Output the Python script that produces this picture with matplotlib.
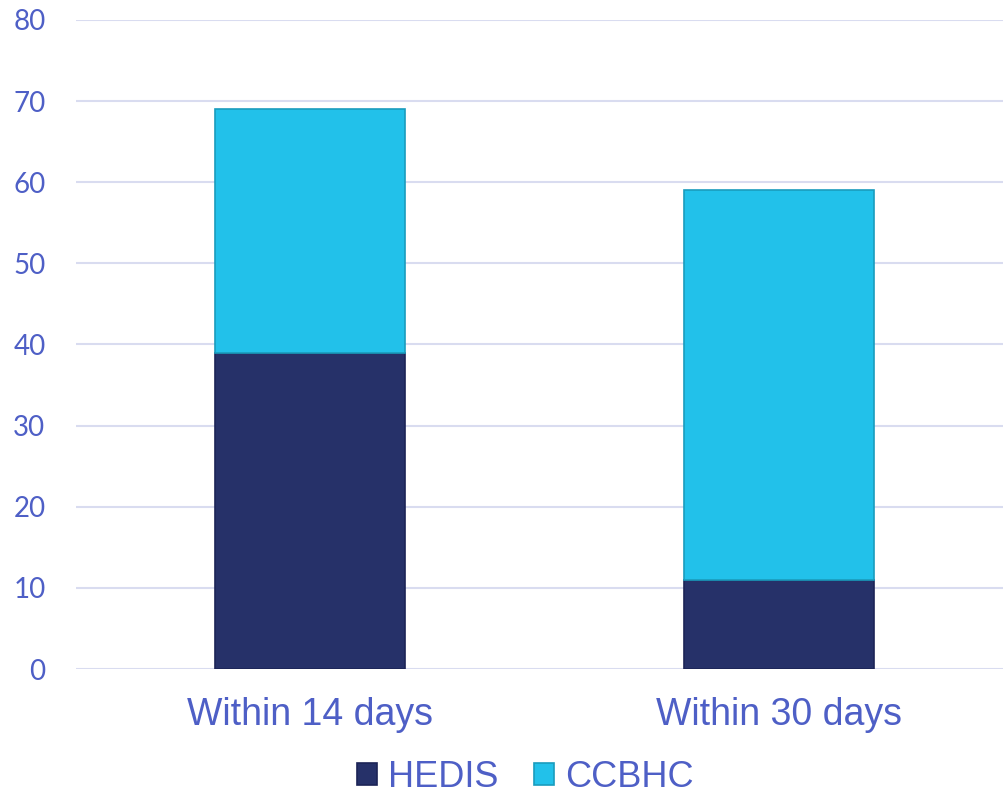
import matplotlib.pyplot as plt
import numpy as np

# Data
categories = ['Within 14 days', 'Within 30 days']
hedis = [39, 11]
ccbhc = [30, 48]
series_names = ['HEDIS', 'CCBHC']

TEXT = '#4E5FC6'
NAVY = '#263169'
CYAN = '#22C1EA'

fig = plt.figure(figsize=(10.04, 7.97), dpi=100)
ax = fig.add_axes([0.0757, 0.1606, 0.9243, 0.8144])

x = np.arange(len(categories))
w = 0.405
ax.bar(x, hedis, width=w, color=NAVY, edgecolor='#1c2456', linewidth=1.2,
       label=series_names[0], zorder=3)
ax.bar(x, ccbhc, width=w, bottom=hedis, color=CYAN, edgecolor='#1a9cbd',
       linewidth=1.2, label=series_names[1], zorder=3)

ax.set_xlim(-0.5, 1.48)
ax.set_ylim(0, 80)
ax.set_yticks(range(0, 81, 10))
ax.set_xticks(x)
ax.set_xticklabels(categories, fontsize=27, color=TEXT, family='Liberation Sans')
for lbl in ax.get_yticklabels():
    lbl.set_fontsize(20)
    lbl.set_color(TEXT)
    lbl.set_family('Lato')
ax.tick_params(axis='x', length=0, pad=20)
ax.tick_params(axis='y', length=0, pad=22)
ax.grid(axis='y', color='#d9dcf0', linewidth=1.5, zorder=0)
for s in ax.spines.values():
    s.set_visible(False)

leg = fig.legend(loc='center', bbox_to_anchor=(0.523, 0.025), ncol=2, frameon=False,
                 prop={'family': 'Liberation Sans', 'size': 26},
                 handlelength=0.55, handleheight=0.55, handletextpad=0.3,
                 columnspacing=1.0)
for t in leg.get_texts():
    t.set_color(TEXT)

plt.savefig('out.png', dpi=100)
